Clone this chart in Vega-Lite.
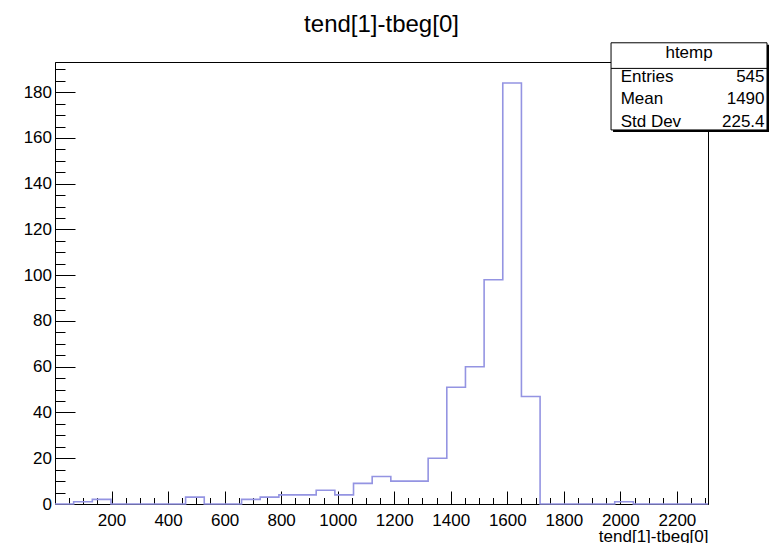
{
  "$schema": "https://vega.github.io/schema/vega-lite/v6.json",
  "width": 653,
  "height": 442,
  "autosize": {"type": "none"},
  "padding": {"left": 55, "top": 62, "right": 63, "bottom": 39},
  "background": "white",
  "config": {
    "font": "Liberation Sans",
    "view": {"stroke": "black", "strokeWidth": 1},
    "axis": {
      "grid": false,
      "domainColor": "black",
      "domainWidth": 1,
      "tickColor": "black",
      "tickWidth": 1,
      "labelColor": "black",
      "labelFont": "Liberation Sans",
      "labelFontSize": 17,
      "titleFont": "Liberation Sans",
      "titleFontWeight": "normal",
      "titleColor": "black"
    }
  },
  "title": {
    "text": "tend[1]-tbeg[0]",
    "font": "Liberation Sans",
    "fontSize": 24,
    "fontWeight": "normal",
    "color": "black",
    "anchor": "middle",
    "frame": "group",
    "offset": 5
  },
  "datasets": {
    "hist": [
      {"lo": 0, "n": 0}, {"lo": 66, "n": 1}, {"lo": 132, "n": 2}, {"lo": 198, "n": 0},
      {"lo": 264, "n": 0}, {"lo": 330, "n": 0}, {"lo": 396, "n": 0}, {"lo": 462, "n": 3},
      {"lo": 528, "n": 0}, {"lo": 594, "n": 0}, {"lo": 660, "n": 2}, {"lo": 726, "n": 3},
      {"lo": 792, "n": 4}, {"lo": 858, "n": 4}, {"lo": 924, "n": 6}, {"lo": 990, "n": 4},
      {"lo": 1056, "n": 9}, {"lo": 1122, "n": 12}, {"lo": 1188, "n": 10}, {"lo": 1254, "n": 10},
      {"lo": 1320, "n": 20}, {"lo": 1386, "n": 51}, {"lo": 1452, "n": 60}, {"lo": 1518, "n": 98},
      {"lo": 1584, "n": 184}, {"lo": 1650, "n": 47}, {"lo": 1716, "n": 0}, {"lo": 1782, "n": 0},
      {"lo": 1848, "n": 0}, {"lo": 1914, "n": 0}, {"lo": 1980, "n": 1}, {"lo": 2046, "n": 0},
      {"lo": 2112, "n": 0}, {"lo": 2178, "n": 0}, {"lo": 2244, "n": 0}, {"lo": 2310, "n": 0}
    ],
    "stats": [
      {"label": "Entries", "value": "545"},
      {"label": "Mean", "value": "1490"},
      {"label": "Std Dev", "value": "225.4"}
    ],
    "box": [{"name": "htemp"}]
  },
  "resolve": {"axis": {"x": "independent", "y": "independent"}},
  "layer": [
    {
      "data": {"name": "hist"},
      "mark": {"type": "line", "interpolate": "step-after", "color": "#9494e2", "strokeWidth": 1.6},
      "encoding": {
        "x": {
          "field": "lo", "type": "quantitative",
          "scale": {"domain": [0, 2310], "nice": false, "zero": false},
          "axis": {
            "orient": "bottom",
            "values": [200, 400, 600, 800, 1000, 1200, 1400, 1600, 1800, 2000, 2200],
            "format": "d",
            "tickSize": -13,
            "labelPadding": 21,
            "labelFlush": false,
            "labelOverlap": false,
            "title": "tend[1]-tbeg[0]",
            "titleFontSize": 17,
            "titleAnchor": "end",
            "titleAlign": "right",
            "titleBaseline": "middle",
            "titleY": 32
          }
        },
        "y": {
          "field": "n", "type": "quantitative",
          "scale": {"domain": [0, 193.2], "nice": false},
          "axis": {
            "orient": "left",
            "values": [0, 20, 40, 60, 80, 100, 120, 140, 160, 180],
            "format": "d",
            "tickSize": -20,
            "labelPadding": 23.5,
            "labelFlush": false,
            "labelOverlap": false,
            "title": null
          }
        }
      }
    },
    {
      "data": {"name": "hist"},
      "mark": {"type": "line", "opacity": 0},
      "encoding": {
        "x": {
          "field": "lo", "type": "quantitative",
          "axis": {
            "orient": "bottom",
            "values": [50,100,150,250,300,350,450,500,550,650,700,750,850,900,950,1050,1100,1150,1250,1300,1350,1450,1500,1550,1650,1700,1750,1850,1900,1950,2050,2100,2150,2250,2300],
            "tickSize": -6.5,
            "labels": false,
            "domain": false,
            "title": null
          }
        },
        "y": {
          "field": "n", "type": "quantitative",
          "axis": {
            "orient": "left",
            "values": [5,10,15,25,30,35,45,50,55,65,70,75,85,90,95,105,110,115,125,130,135,145,150,155,165,170,175,185,190],
            "tickSize": -10,
            "labels": false,
            "domain": false,
            "title": null
          }
        }
      }
    },
    {
      "data": {"name": "box"},
      "mark": {"type": "rect", "fill": "black", "xOffset": 2, "x2Offset": 2, "yOffset": 2, "y2Offset": 2, "clip": false},
      "encoding": {
        "x": {"datum": 1967, "axis": null}, "x2": {"datum": 2518.7},
        "y": {"datum": 201.6, "axis": null}, "y2": {"datum": 163.5}
      }
    },
    {
      "data": {"name": "box"},
      "mark": {"type": "rect", "fill": "white", "stroke": "black", "strokeWidth": 1, "clip": false},
      "encoding": {
        "x": {"datum": 1967, "axis": null}, "x2": {"datum": 2518.7},
        "y": {"datum": 201.6, "axis": null}, "y2": {"datum": 163.5}
      }
    },
    {
      "data": {"name": "box"},
      "mark": {"type": "rule", "color": "black", "strokeWidth": 1, "clip": false},
      "encoding": {
        "x": {"datum": 1967, "axis": null}, "x2": {"datum": 2518.7},
        "y": {"datum": 190.4, "axis": null}
      }
    },
    {
      "data": {"name": "box"},
      "mark": {"type": "text", "align": "center", "baseline": "middle", "font": "Liberation Sans", "fontSize": 17, "color": "black", "clip": false},
      "encoding": {
        "x": {"datum": 2243, "axis": null}, "y": {"datum": 197.0, "axis": null},
        "text": {"field": "name"}
      }
    },
    {
      "data": {"name": "stats"},
      "mark": {"type": "text", "align": "left", "baseline": "middle", "font": "Liberation Sans", "fontSize": 17, "color": "black", "clip": false},
      "encoding": {
        "x": {"datum": 2001, "axis": null}, "y": {"datum": 186.8, "axis": null},
        "yOffset": {"field": "label", "type": "nominal", "scale": {"type": "point", "domain": ["Entries", "Mean", "Std Dev"], "range": [0, 45], "padding": 0}},
        "text": {"field": "label"}
      }
    },
    {
      "data": {"name": "stats"},
      "mark": {"type": "text", "align": "right", "baseline": "middle", "font": "Liberation Sans", "fontSize": 17, "color": "black", "clip": false},
      "encoding": {
        "x": {"datum": 2510, "axis": null}, "y": {"datum": 186.8, "axis": null},
        "yOffset": {"field": "label", "type": "nominal", "scale": {"type": "point", "domain": ["Entries", "Mean", "Std Dev"], "range": [0, 45], "padding": 0}},
        "text": {"field": "value"}
      }
    }
  ]
}
